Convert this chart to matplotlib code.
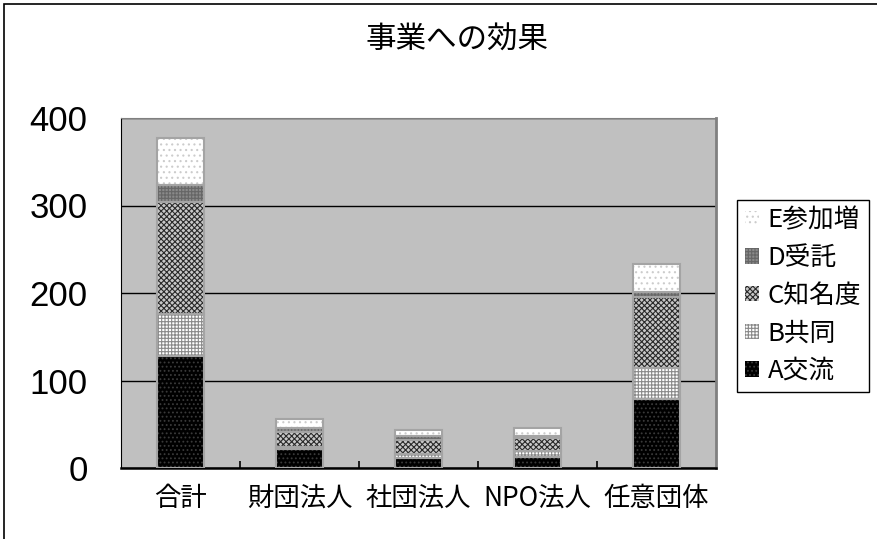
import numpy as np
import matplotlib.pyplot as plt
from matplotlib.patches import Rectangle

plt.rcParams['font.family'] = ['Noto Sans CJK JP', 'DejaVu Sans']
plt.rcParams['hatch.linewidth'] = 0.8

# counts per organisation type, one list per effect category
categories = ['合計', '財団法人', '社団法人', 'NPO法人', '任意団体']
a_koryu = [128, 22, 12, 13, 79]
b_kyodo = [48, 2, 4, 6, 35]
c_chimeido = [128, 17, 16, 15, 82]
d_jutaku = [20, 5, 5, 3, 5]
e_sanka = [53, 10, 7, 9, 32]

series = [
    ('A交流', a_koryu, 'black', '#3a3a3a', '....'),
    ('B共同', b_kyodo, 'white', '#8a8a8a', '+++++'),
    ('C知名度', c_chimeido, '#c8c8c8', '#2a2a2a', 'xxxxxx'),
    ('D受託', d_jutaku, '#8a8a8a', '#666666', '+++++'),
    ('E参加増', e_sanka, 'white', '#cccccc', '...'),
]

fig = plt.figure(figsize=(8.77, 5.39), dpi=100)
ax = fig.add_axes([121 / 877, 71 / 539, 595 / 877, 350 / 539])
ax.set_facecolor('#c0c0c0')

x = np.arange(len(categories))
bottom = np.zeros(len(categories))
handles = []
for label, vals, face, hcol, hatch in series:
    vals = np.array(vals, dtype=float)
    h = ax.bar(x, vals, 0.4, bottom=bottom, color=face, edgecolor=hcol,
               hatch=hatch, linewidth=0, label=label, zorder=2)
    ax.bar(x, vals, 0.4, bottom=bottom, facecolor='none', edgecolor='#a4a4a4',
           linewidth=1.5, zorder=3)
    handles.append(h)
    bottom += vals

ax.set_xlim(-0.5, len(categories) - 0.5)
ax.set_ylim(0, 400)
ax.set_yticks([0, 100, 200, 300, 400])
ax.yaxis.grid(True, color='black', linewidth=1)
ax.set_axisbelow(True)

ax.set_xticks(x)
ax.set_xticklabels(categories, fontsize=19)
ax.set_xticks(x[:-1] + 0.5, minor=True)
ax.tick_params(axis='x', which='major', length=0, pad=12)
ax.tick_params(axis='x', which='minor', direction='in', length=5, width=1.2,
               color='black')
ax.tick_params(axis='y', length=0, pad=24)
for t in ax.get_yticklabels():
    t.set_fontfamily('Liberation Sans')
    t.set_fontsize(25)

ax.spines['left'].set_color('black')
ax.spines['bottom'].set_color('black')
ax.spines['bottom'].set_linewidth(1.8)
ax.spines['top'].set_color('#808080')
ax.spines['right'].set_color('#808080')
ax.spines['right'].set_linewidth(2)

fig.text(457 / 877, 1 - 40 / 539, '事業への効果', fontsize=22,
         ha='center', va='center')

leg = fig.legend(handles[::-1], [s[0] for s in series][::-1],
                 loc='upper left', bbox_to_anchor=(737 / 877, 1 - 200 / 539),
                 bbox_transform=fig.transFigure, fontsize=18.5,
                 handlelength=0.55, handleheight=0.55, handletextpad=0.35,
                 labelspacing=0.45, borderpad=0.3, borderaxespad=0,
                 fancybox=False, framealpha=1)
leg.get_frame().set_edgecolor('black')
leg.get_frame().set_linewidth(1)

# outer chart frame
fig.patches.append(Rectangle((4 / 877, -0.05), 1.1, 1 - 4 / 539 + 0.05,
                             transform=fig.transFigure, fill=False,
                             edgecolor='black', linewidth=1.2))

fig.savefig('out.png', dpi=100)
